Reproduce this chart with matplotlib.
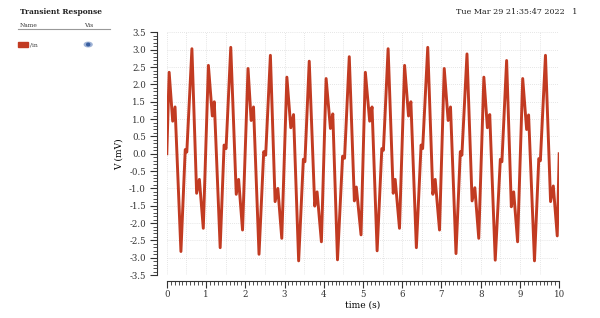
import matplotlib
matplotlib.use("Agg")
import matplotlib.pyplot as plt
from matplotlib.patches import Ellipse, Rectangle
from matplotlib.ticker import MultipleLocator

# transient response of /in
time_s = [0.0, 0.06, 0.15, 0.21, 0.36, 0.47, 0.51, 0.64, 0.76, 0.83, 0.93,
          1.06, 1.16, 1.21, 1.36, 1.46, 1.51, 1.63, 1.77, 1.83, 1.93,
          2.07, 2.15, 2.21, 2.35, 2.47, 2.52, 2.64, 2.76, 2.83, 2.93,
          3.06, 3.16, 3.23, 3.36, 3.48, 3.52, 3.63, 3.77, 3.83, 3.94,
          4.06, 4.17, 4.23, 4.35, 4.48, 4.53, 4.65, 4.78, 4.83, 4.95,
          5.06, 5.17, 5.23, 5.36, 5.48, 5.52, 5.64, 5.77, 5.82, 5.93,
          6.06, 6.16, 6.22, 6.36, 6.48, 6.52, 6.65, 6.78, 6.84, 6.95,
          7.07, 7.17, 7.23, 7.37, 7.48, 7.52, 7.65, 7.78, 7.85, 7.95,
          8.08, 8.17, 8.23, 8.37, 8.50, 8.54, 8.66, 8.78, 8.84, 8.94,
          9.07, 9.17, 9.22, 9.37, 9.48, 9.52, 9.65, 9.78, 9.85, 9.95, 10.0]
v_in = [0.0, 2.35, 0.94, 1.35, -2.82, 0.12, 0.05, 3.03, -1.14, -0.74, -2.15,
        2.55, 1.09, 1.50, -2.71, 0.25, 0.15, 3.07, -1.17, -0.74, -2.20,
        2.46, 0.96, 1.35, -2.90, 0.06, -0.04, 2.84, -1.38, -1.00, -2.44,
        2.21, 0.75, 1.13, -3.09, -0.16, -0.23, 2.67, -1.51, -1.10, -2.54,
        2.17, 0.73, 1.15, -3.06, -0.07, -0.13, 2.80, -1.36, -0.96, -2.34,
        2.35, 0.94, 1.35, -2.80, 0.15, 0.10, 3.03, -1.14, -0.74, -2.15,
        2.55, 1.09, 1.50, -2.71, 0.25, 0.15, 3.07, -1.17, -0.74, -2.20,
        2.46, 0.96, 1.35, -2.88, 0.06, -0.04, 2.88, -1.36, -0.98, -2.44,
        2.21, 0.75, 1.13, -3.07, -0.16, -0.23, 2.69, -1.53, -1.10, -2.54,
        2.17, 0.70, 1.12, -3.09, -0.14, -0.20, 2.84, -1.38, -0.93, -2.37, 0.0]

line_color = "#c23b22"
plt.rcParams["font.family"] = "DejaVu Serif"

fig = plt.figure(figsize=(6, 3.18), dpi=100)
ax = fig.add_axes([0.278, 0.135, 0.654, 0.763])

ax.plot(time_s, v_in, color=line_color, lw=2.1, solid_joinstyle="round")

ax.set_xlim(0, 10)
ax.set_ylim(-3.5, 3.5)
ax.xaxis.set_major_locator(MultipleLocator(1))
ax.xaxis.set_minor_locator(MultipleLocator(0.1))
ax.yaxis.set_minor_locator(MultipleLocator(0.1))
ax.set_yticks([-3.5 + 0.5 * i for i in range(15)])
ax.set_yticklabels(["%.1f" % (-3.5 + 0.5 * i) for i in range(15)])

# dotted grid every 0.5 on both axes
for gx in [0.5 * i for i in range(21)]:
    ax.axvline(gx, color="#dddddd", lw=0.6, ls=(0, (1, 1.5)), zorder=0)
for gy in [-3.5 + 0.5 * i for i in range(15)]:
    ax.axhline(gy, color="#dddddd", lw=0.6, ls=(0, (1, 1.5)), zorder=0)

for s in ["top", "right"]:
    ax.spines[s].set_visible(False)
ax.spines["left"].set_position(("outward", 7))
ax.spines["bottom"].set_position(("outward", 4))
ax.spines["left"].set_color("#333333")
ax.spines["bottom"].set_color("#333333")
ax.tick_params(which="major", length=5, width=0.8, labelsize=6.2, colors="#333333", pad=3)
ax.tick_params(which="minor", length=3, width=0.6, colors="#333333")
ax.tick_params(axis="x", which="major", pad=2)

ax.set_xlabel("time (s)", fontsize=6.5, labelpad=1)
ax.set_ylabel("V (mV)", fontsize=6.5, labelpad=4)

# header and signal list on the left
fig.text(0.033, 0.955, "Transient Response", fontsize=5.4, fontweight="bold", color="#222222")
fig.text(0.033, 0.915, "Name", fontsize=4.3, color="#333333")
fig.text(0.14, 0.915, "Vis", fontsize=4.3, color="#333333")
fig.add_artist(plt.Line2D([0.03, 0.183], [0.908, 0.908], color="#999999", lw=0.8))
fig.add_artist(Rectangle((0.03, 0.852), 0.016, 0.016, color=line_color, transform=fig.transFigure))
fig.text(0.05, 0.853, "/in", fontsize=4.3, color="#333333")
fig.add_artist(Ellipse((0.147, 0.86), 0.013, 0.014, color="#9fb3d6", transform=fig.transFigure))
fig.add_artist(Ellipse((0.147, 0.86), 0.005, 0.008, color="#3a5fa0", transform=fig.transFigure))

fig.text(0.963, 0.955, "Tue Mar 29 21:35:47 2022   1", fontsize=5.8, ha="right", color="#222222")

fig.savefig("out.png", dpi=100)
